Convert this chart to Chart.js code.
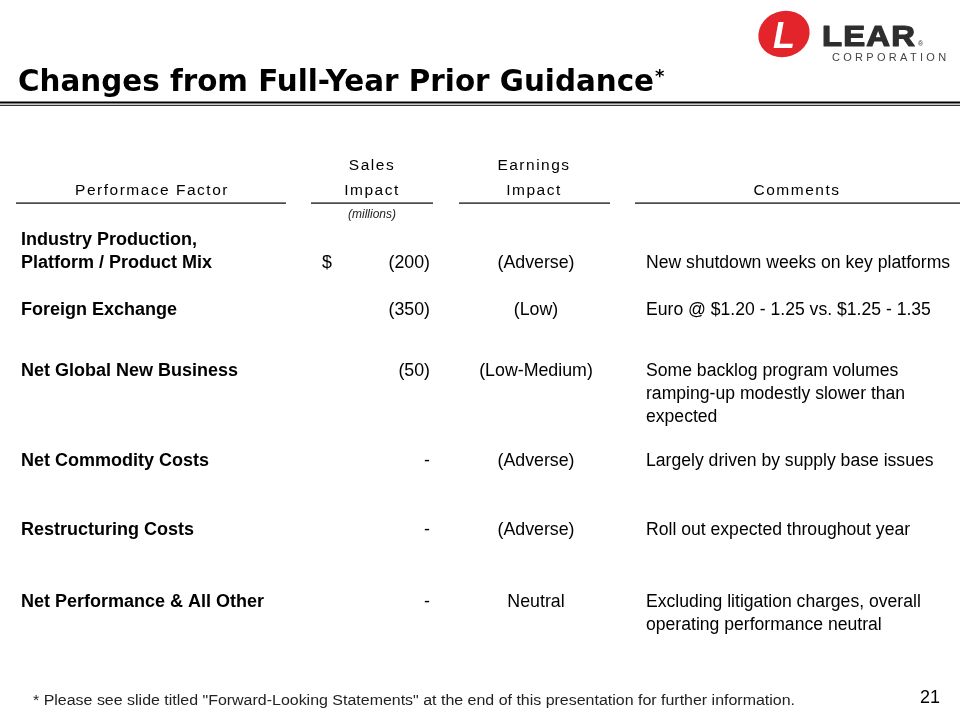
<!DOCTYPE html>
<html>
<head>
<meta charset="utf-8">
<script src="https://cdn.jsdelivr.net/npm/chart.js@4.4.1/dist/chart.umd.min.js"></script>
<style>
  html, body { margin: 0; padding: 0; background: #fff; }
  #wrap { width: 960px; height: 720px; }
</style>
</head>
<body>
<div id="wrap"><canvas id="guidanceTable" width="960" height="720"></canvas></div>
<script>
// table data
var factors = [
    ['Industry Production,', 'Platform / Product Mix'],
    ['Foreign Exchange'],
    ['Net Global New Business'],
    ['Net Commodity Costs'],
    ['Restructuring Costs'],
    ['Net Performance & All Other']
];
var salesImpact = [-200, -350, -50, 0, 0, 0];   // $ millions
var earningsImpact = ['(Adverse)', '(Low)', '(Low-Medium)', '(Adverse)', '(Adverse)', 'Neutral'];
var comments = [
    ['New shutdown weeks on key platforms'],
    ['Euro @ $1.20 - 1.25 vs. $1.25 - 1.35'],
    ['Some backlog program volumes', 'ramping-up modestly slower than', 'expected'],
    ['Largely driven by supply base issues'],
    ['Roll out expected throughout year'],
    ['Excluding litigation charges, overall', 'operating performance neutral']
];
var headers = [['Performace Factor'], ['Sales', 'Impact'], ['Earnings', 'Impact'], ['Comments']];

// layout (page units = pixels of the 960x720 slide)
var rowY = [263, 310, 371, 461, 530, 602];
var colX = [21, 430, 536, 646];
var lineH = 23;
var bodyFont = '"Liberation Sans", Arial, sans-serif';

function fmtSales(v) {
    if (v === 0) return '-';
    return v < 0 ? '(' + Math.abs(v) + ')' : String(v);
}

var columnText = [
    factors,
    salesImpact.map(function (v) { return [fmtSales(v)]; }),
    earningsImpact.map(function (v) { return [v]; }),
    comments
];

var datasets = columnText.map(function (col, c) {
    return {
        label: headers[c].join(' '),
        data: rowY.map(function (y) { return { x: colX[c], y: y }; }),
        pointRadius: 0,
        showLine: false
    };
});

var cellPlugin = {
    id: 'cells',
    afterDatasetsDraw: function (chart) {
        var ctx = chart.ctx;
        ctx.save();
        ctx.fillStyle = '#000';
        ctx.textBaseline = 'middle';
        columnText.forEach(function (col, c) {
            var meta = chart.getDatasetMeta(c);
            meta.data.forEach(function (pt, i) {
                var lines = col[i];
                if (c === 0) {
                    ctx.font = 'bold 18px ' + bodyFont;
                    ctx.textAlign = 'left';
                    lines.forEach(function (t, k) {
                        ctx.fillText(t, pt.x, pt.y - (lines.length - 1 - k) * lineH);
                    });
                } else if (c === 1) {
                    ctx.font = '17.8px ' + bodyFont;
                    ctx.textAlign = 'right';
                    ctx.fillText(lines[0], pt.x, pt.y);
                    if (i === 0) {
                        ctx.textAlign = 'center';
                        ctx.fillText('$', pt.x - 103, pt.y);
                    }
                } else if (c === 2) {
                    ctx.font = '17.8px ' + bodyFont;
                    ctx.textAlign = 'center';
                    ctx.fillText(lines[0], pt.x, pt.y);
                } else {
                    ctx.font = '17.6px ' + bodyFont;
                    ctx.textAlign = 'left';
                    lines.forEach(function (t, k) {
                        ctx.fillText(t, pt.x, pt.y + k * lineH);
                    });
                }
            });
        });
        ctx.restore();
    }
};

var pagePlugin = {
    id: 'page',
    beforeDraw: function (chart) {
        var ctx = chart.ctx;
        ctx.save();
        ctx.fillStyle = '#fff';
        ctx.fillRect(0, 0, chart.width, chart.height);

        // title
        ctx.fillStyle = '#000';
        ctx.textBaseline = 'alphabetic';
        ctx.textAlign = 'left';
        ctx.font = 'bold 30px "DejaVu Sans", Verdana, sans-serif';
        var title = 'Changes from Full-Year Prior Guidance';
        var w = ctx.measureText(title).width;
        ctx.save();
        ctx.translate(18, 91);
        ctx.scale(636 / w, 1);
        ctx.fillText(title, 0, 0);
        ctx.restore();
        ctx.font = 'bold 18px "DejaVu Sans", sans-serif';
        ctx.fillText('*', 655, 82);

        // double rule
        ctx.fillRect(0, 101.5, 960, 2);
        ctx.fillRect(0, 104.8, 960, 1);

        // logo
        ctx.fillStyle = '#e3242b';
        ctx.beginPath();
        ctx.ellipse(784, 34, 26, 23, -0.35, 0, Math.PI * 2);
        ctx.fill();
        ctx.fillStyle = '#fff';
        ctx.font = 'italic bold 36px "Liberation Sans", Arial, sans-serif';
        ctx.textAlign = 'center';
        ctx.fillText('L', 784, 48);
        ctx.textAlign = 'left';
        ctx.fillStyle = '#2e2e2e';
        ctx.strokeStyle = '#2e2e2e';
        ctx.lineWidth = 1.2;
        ctx.lineJoin = 'round';
        ctx.font = 'bold 29px "Liberation Sans", Arial, sans-serif';
        ctx.letterSpacing = '1px';
        var lw = ctx.measureText('LEAR').width;
        ctx.save();
        ctx.translate(822, 46);
        ctx.scale(94 / lw, 1);
        ctx.fillText('LEAR', 0, 0);
        ctx.strokeText('LEAR', 0, 0);
        ctx.restore();
        ctx.font = '7px "Liberation Sans", Arial, sans-serif';
        ctx.letterSpacing = '0px';
        ctx.fillText('\u00AE', 918, 46);
        ctx.fillStyle = '#444';
        ctx.font = '11px "Liberation Sans", Arial, sans-serif';
        ctx.letterSpacing = '3.3px';
        ctx.fillText('CORPORATION', 832, 61);

        // column headers
        ctx.fillStyle = '#000';
        ctx.font = '15.5px "Liberation Sans", Arial, sans-serif';
        ctx.letterSpacing = '1.5px';
        ctx.textAlign = 'center';
        ctx.textBaseline = 'middle';
        var hdrX = [152, 372, 534, 797];
        headers.forEach(function (h, c) {
            h.forEach(function (t, k) {
                ctx.fillText(t, hdrX[c], 191 - (h.length - 1 - k) * 25);
            });
        });
        ctx.letterSpacing = '0px';
        var spans = [[16, 286], [311, 433], [459, 610], [635, 960]];
        spans.forEach(function (s) { ctx.fillRect(s[0], 202.5, s[1] - s[0], 1.2); });
        ctx.font = 'italic 12px "Liberation Sans", Arial, sans-serif';
        ctx.fillStyle = '#222';
        ctx.fillText('(millions)', 372, 215);

        // footnote + page number
        ctx.textAlign = 'left';
        ctx.textBaseline = 'alphabetic';
        ctx.font = '14px "Liberation Sans", Arial, sans-serif';
        var note = '* Please see slide titled "Forward-Looking Statements" at the end of this presentation for further information.';
        var nw = ctx.measureText(note).width;
        ctx.save();
        ctx.translate(33, 705);
        ctx.scale(762 / nw, 1);
        ctx.fillText(note, 0, 0);
        ctx.restore();
        ctx.fillStyle = '#000';
        ctx.font = '18px "Liberation Sans", Arial, sans-serif';
        ctx.fillText('21', 920, 703);
        ctx.restore();
    }
};

new Chart(document.getElementById('guidanceTable').getContext('2d'), {
    type: 'scatter',
    data: { datasets: datasets },
    options: {
        responsive: false,
        animation: false,
        devicePixelRatio: 1,
        layout: { padding: 0 },
        scales: {
            x: { type: 'linear', min: 0, max: 960, display: false },
            y: { type: 'linear', min: 0, max: 720, reverse: true, display: false }
        },
        plugins: {
            legend: { display: false },
            tooltip: { enabled: false }
        }
    },
    plugins: [pagePlugin, cellPlugin]
});
</script>
</body>
</html>
